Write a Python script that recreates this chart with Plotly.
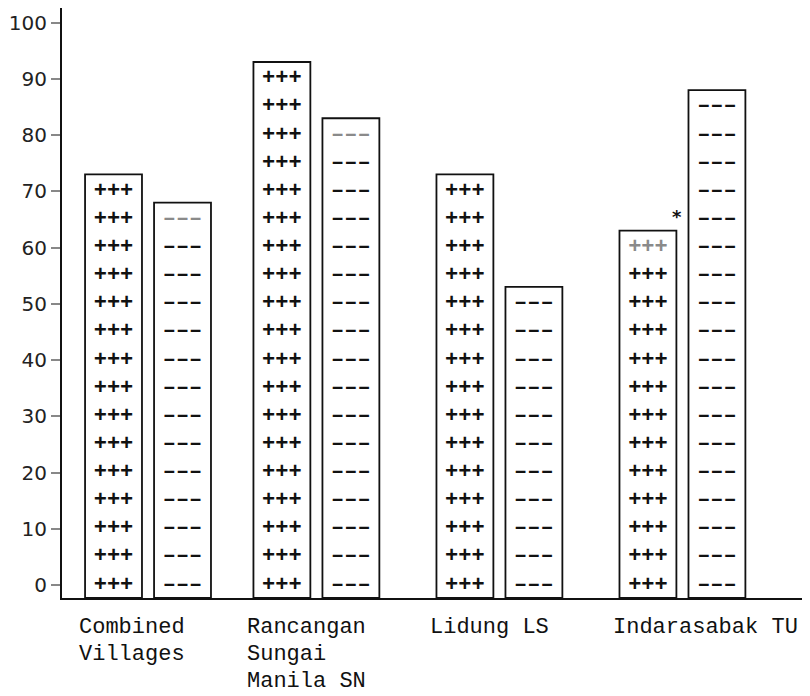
import plotly.graph_objects as go

# ---- data ----
categories = ["Combined<br>Villages", "Rancangan<br>Sungai<br>Manila SN", "Lidung LS", "Indarasabak TU"]
plus_values = [73, 93, 73, 63]
minus_values = [68, 83, 53, 88]
y_tick_values = [0, 10, 20, 30, 40, 50, 60, 70, 80, 90, 100]
y_tick_labels = ["0", "10", "20", "30", "40", "50", "60", "70", "80", "90", "100"]

# ---- layout / style ----
GROUP_X = [0, 0.92, 1.92, 2.92]
Y_MIN, Y_MAX = -2.31, 102.6
BAR_W = 0.311
PLUS_OFF = -0.344
MINUS_OFF = 0.033
ROW_STEP = 5
PLUS_TOP_GREY = [False, False, False, True]
MINUS_TOP_GREY = [True, True, False, False]
LABEL_LINE_H = 27

fig = go.Figure()

def add_bar(values, offset):
    fig.add_trace(go.Bar(
        x=GROUP_X, y=[v - Y_MIN for v in values], base=Y_MIN,
        width=BAR_W, offset=offset,
        marker=dict(color="white", line=dict(color="#111", width=1.8)),
        showlegend=False, hoverinfo="skip"))

add_bar(plus_values, PLUS_OFF)
add_bar(minus_values, MINUS_OFF)

def add_rows(values, offset, symbol, top_grey):
    xs, ys, cols = [], [], []
    for gx, v, grey in zip(GROUP_X, values, top_grey):
        rows = [k * ROW_STEP for k in range(0, 30) if k * ROW_STEP <= v - 2.5]
        for r in rows:
            xs.append(gx + offset + BAR_W / 2)
            ys.append(r)
            cols.append("#8a8a8a" if (grey and r == rows[-1]) else "#111")
    fig.add_trace(go.Scatter(
        x=xs, y=ys, mode="text", text=[symbol] * len(xs),
        textfont=dict(family="Liberation Mono", size=22, color=cols),
        textposition="middle center", showlegend=False, hoverinfo="skip"))

add_rows(plus_values, PLUS_OFF, "<b>+++</b>", PLUS_TOP_GREY)
add_rows(minus_values, MINUS_OFF, "<b>\u2013\u2013\u2013</b>", MINUS_TOP_GREY)

# category labels (one annotation per line for tight line spacing)
for gx, lab in zip(GROUP_X, categories):
    for i, line in enumerate(lab.split("<br>")):
        fig.add_annotation(x=gx, xref="x", y=0, yref="paper", text=line,
                           showarrow=False, xanchor="left", yanchor="top",
                           xshift=-70, yshift=-16 - i * LABEL_LINE_H, align="left",
                           borderpad=0,
                           font=dict(family="Liberation Mono", size=22, color="#111"))

# asterisk
fig.add_annotation(x=GROUP_X[3] + PLUS_OFF + BAR_W, y=plus_values[3], text="<b>*</b>",
                   showarrow=False, xanchor="center", yanchor="bottom",
                   xshift=1, yshift=2,
                   font=dict(family="DejaVu Sans", size=18, color="#111"))

fig.update_layout(
    width=802, height=688,
    margin=dict(l=54, r=0, t=0, b=98, autoexpand=False),
    plot_bgcolor="white", paper_bgcolor="white",
    xaxis=dict(range=[-0.47, 3.617], showgrid=False, zeroline=False,
               showticklabels=False, ticks="", showline=True, automargin=False,
               linecolor="#111", linewidth=2),
    yaxis=dict(range=[Y_MIN, Y_MAX], showgrid=False, zeroline=False, automargin=False,
               tickvals=y_tick_values, ticktext=y_tick_labels,
               ticks="outside", ticklen=9, tickwidth=2, tickcolor="#888",
               showline=True, linecolor="#111", linewidth=2,
               tickfont=dict(family="DejaVu Sans", size=20, color="#222")),
)

fig.write_html("out.html")
